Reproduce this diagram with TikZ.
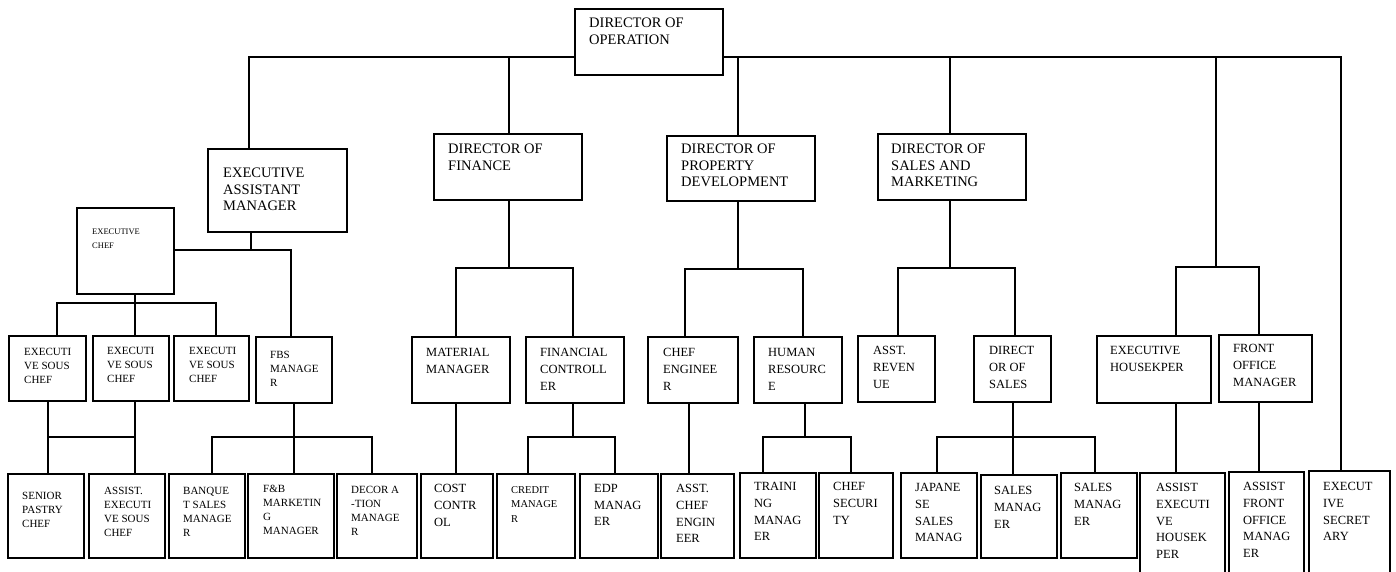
\documentclass[tikz,border=0pt]{standalone}
\usepackage{fontspec}
\setmainfont{Liberation Serif}
\usetikzlibrary{calc}
\tikzset{
  box/.style={draw, line width=1.6pt, inner sep=0pt, outer sep=0pt, rectangle},
  conn/.style={line width=1.5pt},
  ftbig/.style={font=\fontsize{14.5}{16.5}\selectfont, align=left, inner sep=0pt},
  ftmid/.style={font=\fontsize{12.5}{16.8}\selectfont, align=left, inner sep=0pt},
  ftsml/.style={font=\fontsize{11}{14}\selectfont, align=left, inner sep=0pt},
  ftcred/.style={font=\fontsize{10.5}{14.5}\selectfont, align=left, inner sep=0pt},
  fttiny/.style={font=\fontsize{8.5}{13.5}\selectfont, align=left, inner sep=0pt},
}
% name, x1, y1, x2, y2, dx, dy, style, text
\newcommand\ob[9]{%
  \node[box, anchor=north west, minimum width={#4-#2}, minimum height={#5-#3}] (#1) at (#2,#3) {};
  \node[#8, anchor=north west] (#1-t) at ([xshift=#6pt, yshift=-#7pt]#1.north west) {#9};
}
\begin{document}
\begin{tikzpicture}[x=1pt, y=-1pt]
\useasboundingbox (0,0) rectangle (1396,572);
\clip (0,0) rectangle (1396,572);
% top
\ob{doo}{575}{9}{723}{75}{14}{9}{ftbig}{DIRECTOR OF\\OPERATION}
\ob{eam}{208}{149}{347}{232}{15}{19}{ftbig}{EXECUTIVE\\ASSISTANT\\MANAGER}
\ob{dof}{434}{134}{582}{200}{14}{10}{ftbig}{DIRECTOR OF\\FINANCE}
\ob{dopd}{667}{136}{815}{201}{14}{8}{ftbig}{DIRECTOR OF\\PROPERTY\\DEVELOPMENT}
\ob{dosm}{878}{134}{1026}{200}{13}{10}{ftbig}{DIRECTOR OF\\SALES AND\\MARKETING}
\ob{ec}{77}{208}{174}{294}{15}{21}{fttiny}{EXECUTIVE\\CHEF}
% row 2
\ob{esc1}{9}{336}{86}{401}{15}{12}{ftsml}{EXECUTI\\VE SOUS\\CHEF}
\ob{esc2}{93}{336}{169}{401}{14}{11}{ftsml}{EXECUTI\\VE SOUS\\CHEF}
\ob{esc3}{174}{336}{249}{401}{15}{11}{ftsml}{EXECUTI\\VE SOUS\\CHEF}
\ob{fbs}{256}{337}{332}{403}{14}{14}{ftsml}{FBS\\MANAGE\\R}
\ob{matm}{412}{337}{510}{403}{14}{11}{ftmid}{MATERIAL\\MANAGER}
\ob{fc}{526}{337}{624}{403}{14}{11}{ftmid}{FINANCIAL\\CONTROLL\\ER}
\ob{cheng}{648}{337}{738}{403}{15}{11}{ftmid}{CHEF\\ENGINEE\\R}
\ob{hr}{754}{337}{842}{403}{14}{11}{ftmid}{HUMAN\\RESOURC\\E}
\ob{arev}{858}{336}{935}{402}{15}{10}{ftmid}{ASST.\\REVEN\\UE}
\ob{dos}{974}{336}{1051}{402}{15}{10}{ftmid}{DIRECT\\OR OF\\SALES}
\ob{ehk}{1097}{336}{1211}{403}{13}{10}{ftmid}{EXECUTIVE\\HOUSEKPER}
\ob{fom}{1219}{335}{1312}{402}{14}{9}{ftmid}{FRONT\\OFFICE\\MANAGER}
% row 3
\ob{spc}{8}{474}{84}{558}{14}{18}{ftsml}{SENIOR\\PASTRY\\CHEF}
\ob{aesc}{89}{474}{165}{558}{15}{13}{ftsml}{ASSIST.\\EXECUTI\\VE SOUS\\CHEF}
\ob{banq}{169}{474}{245}{558}{14}{13}{ftsml}{BANQUE\\T SALES\\MANAGE\\R}
\ob{fbm}{248}{474}{334}{558}{15}{11}{ftsml}{F\&B\\MARKETIN\\G\\MANAGER}
\ob{decor}{337}{474}{417}{558}{14}{12}{ftsml}{DECOR A\\-TION\\MANAGE\\R}
\ob{cc}{421}{474}{493}{558}{13}{10}{ftmid}{COST\\CONTR\\OL}
\ob{cred}{497}{474}{575}{558}{14}{12}{ftcred}{CREDIT\\MANAGE\\R}
\ob{edp}{580}{474}{658}{558}{14}{10}{ftmid}{EDP\\MANAG\\ER}
\ob{ace}{661}{474}{734}{558}{15}{10}{ftmid}{ASST.\\CHEF\\ENGIN\\EER}
\ob{trn}{740}{473}{816}{558}{14}{9}{ftmid}{TRAINI\\NG\\MANAG\\ER}
\ob{csec}{819}{473}{893}{558}{14}{9}{ftmid}{CHEF\\SECURI\\TY}
\ob{jap}{901}{473}{977}{558}{14}{10}{ftmid}{JAPANE\\SE\\SALES\\MANAG}
\ob{sm1}{981}{475}{1057}{558}{13}{11}{ftmid}{SALES\\MANAG\\ER}
\ob{sm2}{1061}{473}{1137}{558}{13}{10}{ftmid}{SALES\\MANAG\\ER}
\ob{aehk}{1140}{473}{1225}{600}{16}{10}{ftmid}{ASSIST\\EXECUTI\\VE\\HOUSEK\\PER}
\ob{afom}{1229}{472}{1304}{600}{14}{10}{ftmid}{ASSIST\\FRONT\\OFFICE\\MANAG\\ER}
\ob{esec}{1309}{471}{1390}{600}{14}{11}{ftmid}{EXECUT\\IVE\\SECRET\\ARY}
% junction coordinates
\coordinate (bus) at (0,57);
\coordinate (bL) at (249,57);
\coordinate (bR) at (1341,57);
\coordinate (ja) at (251,250);  \coordinate (jb) at (291,250);
\coordinate (jc) at (135,303);  \coordinate (jc1) at (57,303);  \coordinate (jc3) at (216,303);
\coordinate (jd1) at (48,437);  \coordinate (jd2) at (135,437);
\coordinate (je) at (294,437);  \coordinate (je1) at (212,437); \coordinate (je3) at (372,437);
\coordinate (jf) at (509,268);  \coordinate (jf1) at (456,268); \coordinate (jf2) at (573,268);
\coordinate (jh) at (573,437);  \coordinate (jh1) at (528,437); \coordinate (jh2) at (615,437);
\coordinate (ji) at (738,269);  \coordinate (ji1) at (685,269); \coordinate (ji2) at (803,269);
\coordinate (jj) at (689,437);
\coordinate (jk) at (805,437);  \coordinate (jk1) at (763,437); \coordinate (jk2) at (851,437);
\coordinate (jl) at (950,268);  \coordinate (jl1) at (898,268); \coordinate (jl2) at (1015,268);
\coordinate (jm) at (1013,437); \coordinate (jm1) at (937,437); \coordinate (jm2) at (1095,437);
\coordinate (jn) at (1216,267); \coordinate (jn1) at (1176,267); \coordinate (jn2) at (1259,267);
% connectors
\begin{scope}[conn]
\draw (doo.west |- bus) -- (bL) -- (bL |- eam.north);
\draw (doo.east |- bus) -- (bR) -- (bR |- esec.north);
\draw (jf |- bus) -- (jf |- dof.north);
\draw (ji |- bus) -- (ji |- dopd.north);
\draw (jl |- bus) -- (jl |- dosm.north);
\draw (jn |- bus) -- (jn);
% EAM
\draw (eam.south -| ja) -- (ja);
\draw (ec.east |- ja) -- (jb) -- (jb |- fbs.north);
% Executive chef
\draw (ec.south -| jc) -- (jc) -- (jc |- esc2.north);
\draw (jc1 |- esc1.north) -- (jc1) -- (jc3) -- (jc3 |- esc3.north);
% sous chefs
\draw (esc1.south -| jd1) -- (jd1 |- spc.north);
\draw (esc2.south -| jd2) -- (jd2 |- aesc.north);
\draw (jd1) -- (jd2);
% FBS
\draw (fbs.south -| je) -- (je |- fbm.north);
\draw (je1 |- banq.north) -- (je1) -- (je3) -- (je3 |- decor.north);
% Finance
\draw (dof.south -| jf) -- (jf);
\draw (jf1 |- matm.north) -- (jf1) -- (jf2) -- (jf2 |- fc.north);
\draw (matm.south -| jf1) -- (jf1 |- cc.north);
\draw (fc.south -| jh) -- (jh);
\draw (jh1 |- cred.north) -- (jh1) -- (jh2) -- (jh2 |- edp.north);
% Property
\draw (dopd.south -| ji) -- (ji);
\draw (ji1 |- cheng.north) -- (ji1) -- (ji2) -- (ji2 |- hr.north);
\draw (cheng.south -| jj) -- (jj |- ace.north);
\draw (hr.south -| jk) -- (jk);
\draw (jk1 |- trn.north) -- (jk1) -- (jk2) -- (jk2 |- csec.north);
% Sales
\draw (dosm.south -| jl) -- (jl);
\draw (jl1 |- arev.north) -- (jl1) -- (jl2) -- (jl2 |- dos.north);
\draw (dos.south -| jm) -- (jm |- sm1.north);
\draw (jm1 |- jap.north) -- (jm1) -- (jm2) -- (jm2 |- sm2.north);
% Housekeeping / front office
\draw (jn1 |- ehk.north) -- (jn1) -- (jn2) -- (jn2 |- fom.north);
\draw (ehk.south -| jn1) -- (jn1 |- aehk.north);
\draw (fom.south -| jn2) -- (jn2 |- afom.north);
\end{scope}
\end{tikzpicture}
\end{document}
